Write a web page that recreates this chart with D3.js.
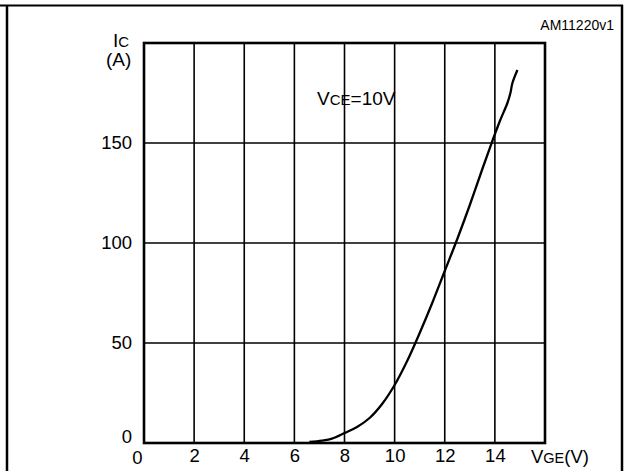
<!DOCTYPE html>
<html>
<head>
<meta charset="utf-8">
<script src="https://cdn.jsdelivr.net/npm/d3@7"></script>
<style>
  body { margin: 0; background: #fff; }
  svg { display: block; font-family: "Liberation Sans", Arial, sans-serif; }
</style>
</head>
<body>
<div id="chart"></div>
<script>
var vge = [6.6, 7.1, 7.5, 8.0, 8.5, 9.0, 9.5, 10.0, 10.5, 11.0, 11.5, 12.0, 12.5, 13.0, 13.5, 13.87, 14.2, 14.5, 14.62, 14.7, 14.9];
var ic  = [0.5, 1.2, 2.2, 5, 8, 12.5, 19.5, 29, 41, 55, 70, 86, 102, 119, 137, 150, 161, 170, 175, 180, 186.5];
var xTicks = [0, 2, 4, 6, 8, 10, 12, 14];
var yTicks = [0, 50, 100, 150];

var W = 626, H = 471;
var margin = {top: 43, right: 81, bottom: 28, left: 144};
var width = W - margin.left - margin.right,
    height = H - margin.top - margin.bottom;

var svg = d3.select("#chart").append("svg")
    .attr("width", W)
    .attr("height", H);

// outer frame
svg.append("line").attr("x1", 0).attr("x2", 623).attr("y1", 5.5).attr("y2", 5.5)
    .attr("stroke", "#000").attr("stroke-width", 2);
svg.append("line").attr("x1", 7).attr("x2", 7).attr("y1", 5).attr("y2", H)
    .attr("stroke", "#000").attr("stroke-width", 2.5);
svg.append("line").attr("x1", 622).attr("x2", 622).attr("y1", 5).attr("y2", H)
    .attr("stroke", "#000").attr("stroke-width", 2.5);

svg.append("text")
    .attr("x", 614).attr("y", 30)
    .attr("text-anchor", "end").attr("font-size", 14)
    .text("AM11220v1");

var g = svg.append("g")
    .attr("transform", "translate(" + margin.left + "," + margin.top + ")");

var x = d3.scaleLinear().domain([0, 16]).range([0, width]);
var y = d3.scaleLinear().domain([0, 200]).range([height, 0]);

// grid
g.append("g")
    .selectAll("line")
    .data(d3.range(2, 16, 2))
    .enter().append("line")
    .attr("x1", function(d) { return x(d); })
    .attr("x2", function(d) { return x(d); })
    .attr("y1", 0).attr("y2", height)
    .attr("stroke", "#000").attr("stroke-width", 1.6);

g.append("g")
    .selectAll("line")
    .data([50, 100, 150])
    .enter().append("line")
    .attr("x1", 0).attr("x2", width)
    .attr("y1", function(d) { return y(d); })
    .attr("y2", function(d) { return y(d); })
    .attr("stroke", "#000").attr("stroke-width", 1.6);

g.append("rect")
    .attr("width", width).attr("height", height)
    .attr("fill", "none").attr("stroke", "#000").attr("stroke-width", 2.6);

// axes (labels only)
var xAxis = g.append("g")
    .attr("transform", "translate(0," + height + ")")
    .call(d3.axisBottom(x).tickValues(xTicks).tickSize(0).tickPadding(6));
xAxis.select(".domain").remove();
xAxis.selectAll("text").attr("font-size", 18.5).attr("font-family", "Liberation Sans, Arial, sans-serif").attr("fill", "#000");
xAxis.selectAll(".tick").filter(function(d) { return d === 0; })
    .select("text").attr("dx", -7).attr("dy", "0.82em");

var yAxis = g.append("g")
    .call(d3.axisLeft(y).tickValues(yTicks).tickSize(0).tickPadding(12));
yAxis.select(".domain").remove();
yAxis.selectAll("text").attr("font-size", 18.5).attr("font-family", "Liberation Sans, Arial, sans-serif").attr("fill", "#000");
yAxis.selectAll(".tick").filter(function(d) { return d === 0; })
    .select("text").attr("dy", "-0.05em");

// curve
var pts = vge.map(function(v, i) { return [v, ic[i]]; });
g.append("path")
    .datum(pts)
    .attr("fill", "none")
    .attr("stroke", "#000")
    .attr("stroke-width", 2.3)
    .attr("stroke-linejoin", "round")
    .attr("d", d3.line()
        .x(function(d) { return x(d[0]); })
        .y(function(d) { return y(d[1]); })
        .curve(d3.curveCatmullRom.alpha(0.5)));

// axis titles
var ic_t = svg.append("text").attr("x", 113).attr("y", 47).attr("font-size", 19);
ic_t.append("tspan").text("I");
ic_t.append("tspan").attr("font-size", 15).text("C");
svg.append("text").attr("x", 106).attr("y", 66).attr("font-size", 19).text("(A)");

var vt = svg.append("text").attr("x", 531).attr("y", 463).attr("font-size", 18.5);
vt.append("tspan").text("V");
vt.append("tspan").attr("font-size", 14.5).text("GE");
vt.append("tspan").text("(V)");

var vce = svg.append("text").attr("x", 317).attr("y", 105).attr("font-size", 19);
vce.append("tspan").text("V");
vce.append("tspan").attr("font-size", 15).text("CE");
vce.append("tspan").text("=10V");
</script>
</body>
</html>
